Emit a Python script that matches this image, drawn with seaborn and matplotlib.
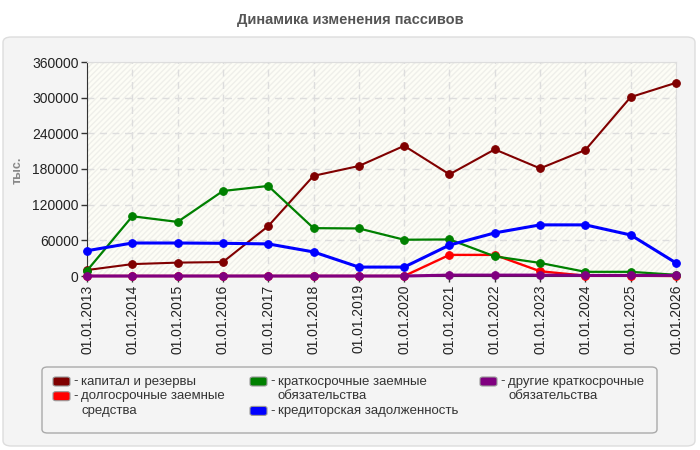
import numpy as np
import pandas as pd
import matplotlib.pyplot as plt
import seaborn as sns
from matplotlib.patches import FancyBboxPatch, Rectangle

dates = ["01.01.2013", "01.01.2014", "01.01.2015", "01.01.2016", "01.01.2017",
         "01.01.2018", "01.01.2019", "01.01.2020", "01.01.2021", "01.01.2022",
         "01.01.2023", "01.01.2024", "01.01.2025", "01.01.2026"]

capital = [10000, 20000, 22500, 23500, 84000, 168500, 185000, 219000,
           171000, 213000, 181000, 212000, 301000, 325000]
long_loans = [0, 0, 0, 0, 0, 0, 0, 0, 35500, 35500, 8000, 500, 500, 0]
short_loans = [9000, 100500, 91000, 143000, 151500, 80500, 80000, 61000,
               61500, 33000, 22000, 7000, 7000, 2000]
payables = [42500, 55500, 55500, 55000, 54000, 40500, 15000, 15000,
            52000, 72500, 86000, 86000, 69000, 22000]
other_short = [0, 0, 0, 0, 0, 0, 0, 0, 1500, 1500, 1500, 1000, 1000, 1000]

names = ["капитал и резервы", "долгосрочные заемные средства",
         "краткосрочные заемные обязательства", "кредиторская задолженность",
         "другие краткосрочные обязательства"]
colors = ["#800000", "#ff0000", "#008000", "#0000ff", "#800080"]
widths = [1.5, 1.7, 1.6, 2.2, 2.2]
yticks = [0, 60000, 120000, 180000, 240000, 300000, 360000]

# legend layout: (column, first text row, wrapped lines)
legend_items = [
    (0, 0, ["капитал и резервы"]),
    (0, 1, ["долгосрочные заемные", "средства"]),
    (1, 0, ["краткосрочные заемные", "обязательства"]),
    (1, 2, ["кредиторская задолженность"]),
    (2, 0, ["другие краткосрочные", "обязательства"]),
]

sns.set_style("white")
plt.rcParams['font.family'] = ['Liberation Sans', 'DejaVu Sans']

W, H = 700, 450
fig = plt.figure(figsize=(7, 4.5), dpi=100)
fig.patch.set_facecolor("white")


def fx(px):
    return px / W


def fy(py):
    return 1 - py / H


# outer panel
panel = FancyBboxPatch((fx(3), fy(446)), fx(692), 409 / H,
                       boxstyle="round,pad=0,rounding_size=0.012",
                       transform=fig.transFigure, facecolor="#f4f4f4", edgecolor="#dddddd",
                       linewidth=1, zorder=-10)
fig.patches.append(panel)

fig.text(0.5, fy(20), "Динамика изменения пассивов", ha="center", va="center",
         fontsize=10.5, fontweight="bold", color="#555555")

ax = fig.add_axes([fx(87), fy(276), fx(676 - 87), (276 - 62) / H])
ax.set_facecolor("#fdfdf6")
ax.add_patch(Rectangle((0, 0), 1, 1, transform=ax.transAxes, facecolor="none",
                       edgecolor="#efefea", hatch="//////", linewidth=0, zorder=0))

x = np.arange(len(dates))
series = [capital, long_loans, short_loans, payables, other_short]
df = pd.DataFrame({"x": np.tile(x, len(series)),
                   "value": np.concatenate(series),
                   "name": np.repeat(names, len(x))})
for name, col, lw in zip(names, colors, widths):
    sub = df[df["name"] == name]
    sns.lineplot(data=sub, x="x", y="value", ax=ax, color=col, marker="o",
                 markersize=5.5, markeredgecolor=col, linewidth=lw, zorder=3,
                 clip_on=False)

ax.set_xlim(0, len(dates) - 1)
ax.set_ylim(0, 360000)
ax.set_xticks(x)
ax.set_xticklabels(dates, rotation=90, fontsize=10, color="#222222")
ax.set_yticks(yticks)
ax.set_yticklabels([str(v) for v in yticks], fontsize=10, color="#222222")
ax.grid(True, color="#dddddd", linestyle=(0, (5, 4)), linewidth=1)
ax.set_axisbelow(True)
ax.set_xlabel("")
ax.set_ylabel("")
for s in ["top", "right"]:
    ax.spines[s].set_color("#dddddd")
ax.spines["left"].set_color("#333333")
ax.spines["bottom"].set_color("#333333")
ax.tick_params(axis="both", direction="out", length=4, width=1, color="#333333", pad=2,
               left=True, bottom=True)

fig.text(fx(18), fy(170), "тыс.", rotation=90, ha="center", va="center",
         fontsize=9, fontweight="bold", color="#888888")

# legend box drawn by hand so wrapped labels align like the original
leg_box = FancyBboxPatch((fx(42), fy(433)), fx(615), 66 / H,
                         boxstyle="round,pad=0,rounding_size=0.008",
                         transform=fig.transFigure, facecolor="#f4f4f4",
                         edgecolor="#aaaaaa", linewidth=1, zorder=1)
fig.patches.append(leg_box)

col_x = [53, 250, 480]
row_y0, row_step = 381.5, 14.7
for (c, r, lines), col in zip(legend_items, colors):
    hx = col_x[c]
    yc = row_y0 + r * row_step
    fig.patches.append(FancyBboxPatch((fx(hx), fy(yc + 4.5)), fx(17), 9 / H,
                                      boxstyle="round,pad=0,rounding_size=0.004",
                                      transform=fig.transFigure, facecolor=col,
                                      edgecolor="#999999", linewidth=0.8, zorder=2))
    fig.text(fx(hx + 20), fy(yc), "-", ha="left", va="center", fontsize=9.5,
             color="#333333")
    for i, line in enumerate(lines):
        fig.text(fx(hx + 28), fy(yc + i * row_step), line, ha="left", va="center",
                 fontsize=9.5, color="#333333")

fig.savefig("out.png", dpi=100)
